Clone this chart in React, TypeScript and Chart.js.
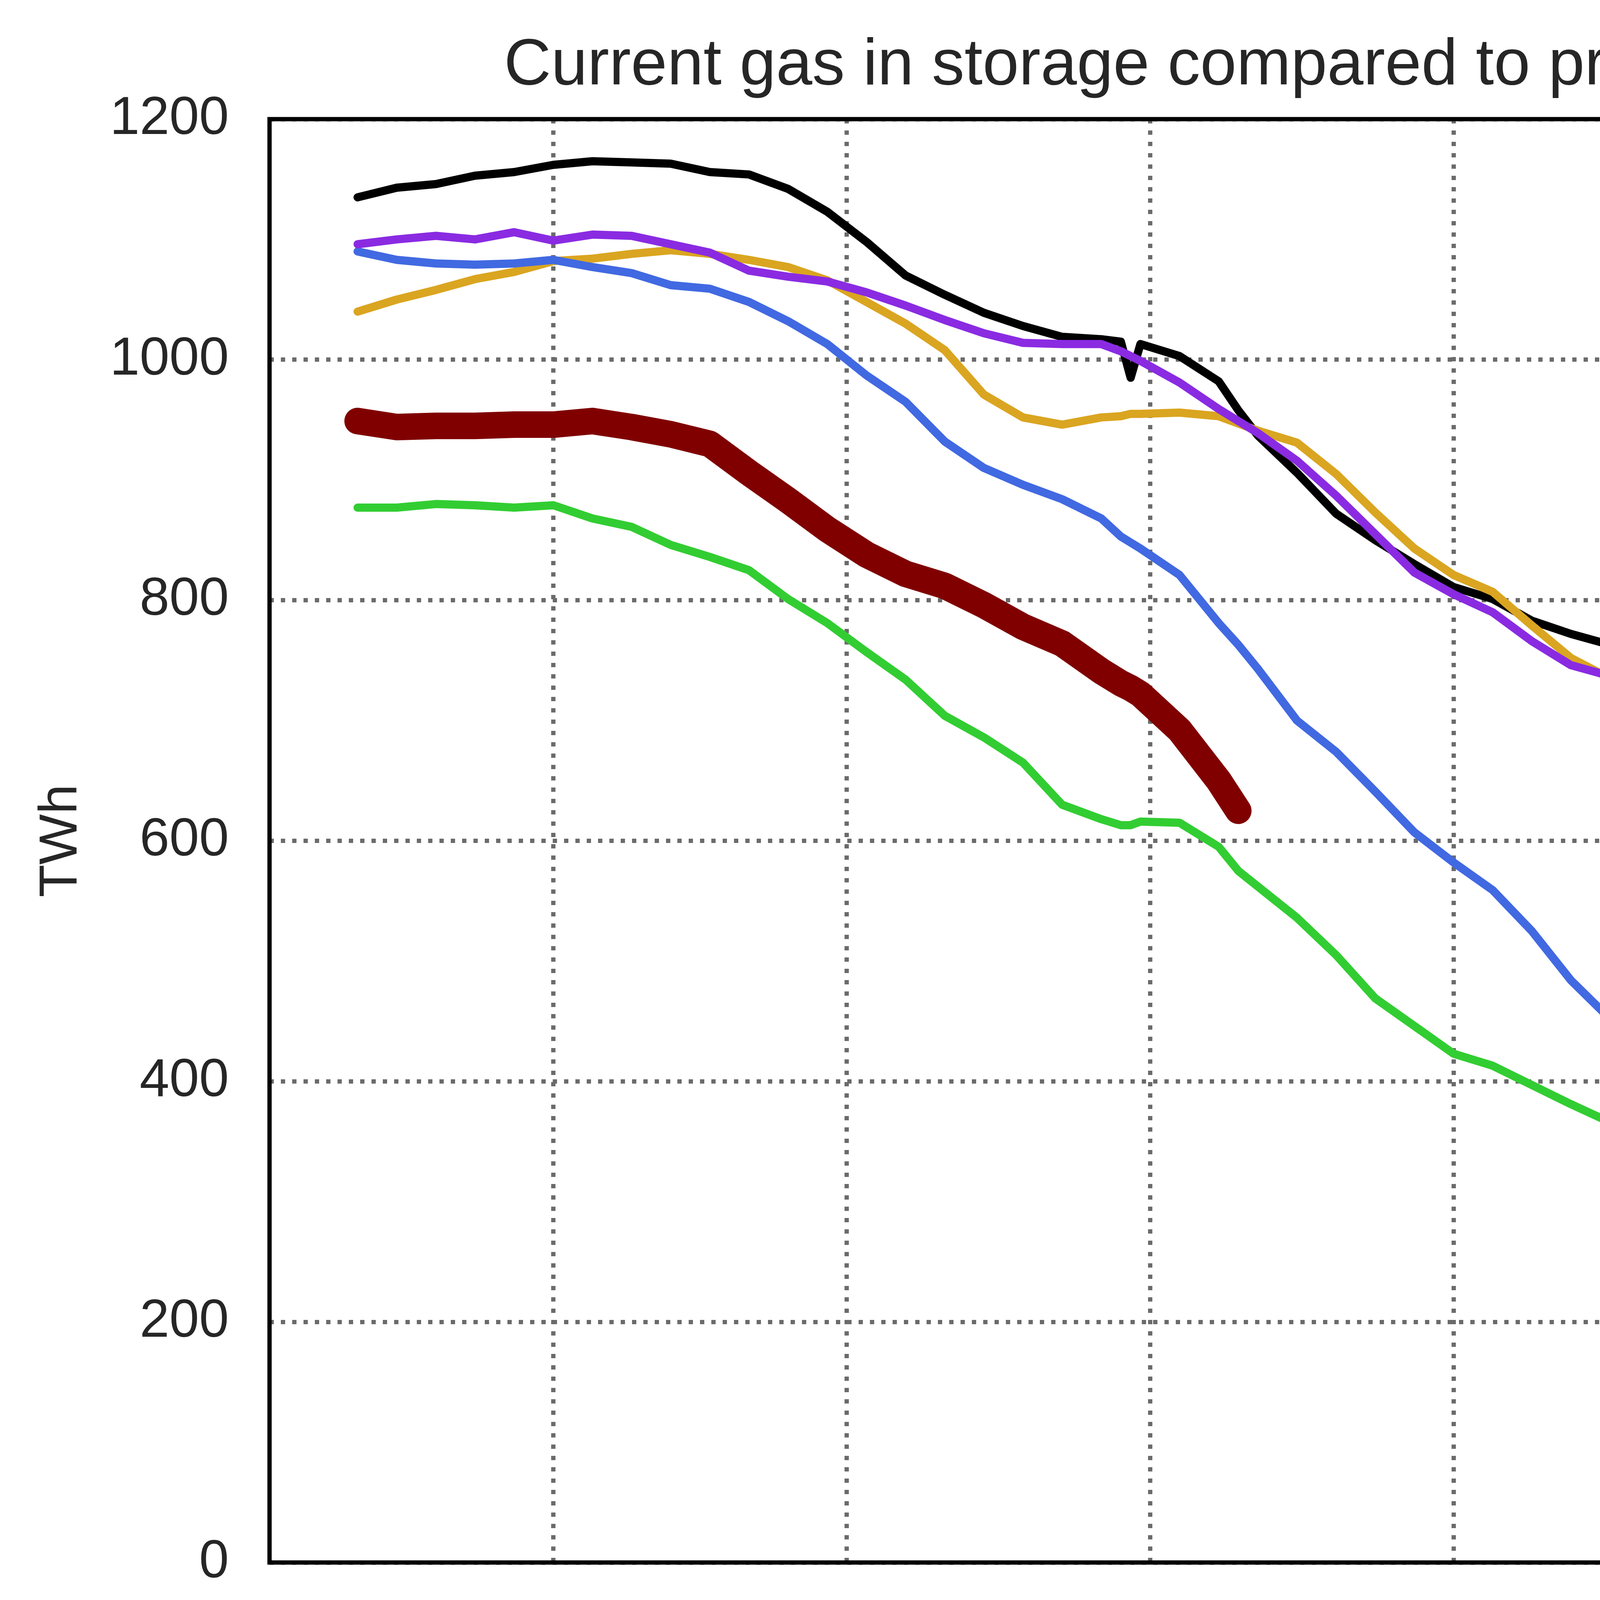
import { useEffect, useRef } from "react";
import { Chart, registerables } from "chart.js";

Chart.register(...registerables);

const W = 5749;
const H = 4708;
const FONT = '"Liberation Sans", Arial, sans-serif';
const TEXT = "#262626";
const TITLE = "Current gas in storage compared to previous years";

// sample days, counted from 2025-10-12
const days = [
  0, 4, 8, 12, 16, 20, 24, 28, 32, 36, 40, 44, 48, 52, 56, 60, 64, 68, 72, 76,
  78, 79, 80, 84, 88, 90, 92, 96, 100, 104, 108, 112, 116, 120, 124, 128, 132,
  136, 140, 144, 148, 152, 153, 154, 156, 160, 164, 168, 171, 172, 176, 180,
];

const monthTickDays = [20, 50, 81, 112, 140, 171];
const monthTickLabels = ["2025-11", "2025-12", "2026-01", "2026-02", "2026-03", "2026-04"];

// TWh in storage
const gas2025 = [
  949, 944, 945, 945, 946, 946, 949, 944, 938, 930, 906, 883, 859, 838, 822, 812, 796, 778, 764, 741,
  731, 727, 722, 692, 650, 625,
];
const gas2024 = [
  1135, 1143, 1146, 1153, 1156, 1162, 1165, 1164, 1163, 1156, 1154, 1142, 1123, 1098, 1070, 1054, 1039, 1028, 1019, 1017,
  1015, 985, 1013, 1003, 982, 958, 937, 906, 872, 850, 830, 811, 801, 783, 772, 763, 755,
  745, 731, 721, 707, 698, 696, 694, 693, 687, 688, 683, 677, 681, 687, 698,
];
const gas2023 = [
  1040, 1050, 1058, 1067, 1073, 1082, 1084, 1088, 1091, 1088, 1083, 1077, 1066, 1048, 1030, 1008, 971, 952, 946, 952,
  953, 955, 955, 956, 953, 947, 941, 931, 905, 873, 843, 821, 807, 779, 752, 735, 728,
  718, 698, 676, 653, 643, 653, 637, 634, 635, 644, 638, 645, 646, 639, 645,
];
const gas2022 = [
  877, 877, 880, 879, 877, 879, 868, 861, 846, 836, 825, 801, 781, 757, 734, 704, 686, 665, 630, 618,
  613, 613, 616, 615, 595, 575, 562, 536, 505, 469, 446, 423, 413, 397, 381, 366, 356,
  344, 332, 319, 303, 300, 299, 296, 294, 295, 297, 304, 300, 300, 299, 309,
];
const gas2021 = [
  1090, 1083, 1080, 1079, 1080, 1083, 1077, 1072, 1062, 1059, 1048, 1032, 1013, 987, 965, 932, 910, 896, 884, 868,
  853, 848, 843, 821, 781, 763, 743, 700, 674, 641, 607, 582, 559, 525, 484, 452, 437,
  426, 414, 394, 377, 368, 367, 365, 361, 348, 338, 340, 350, 352, 357, 345,
];
const gas2020 = [
  1096, 1100, 1103, 1100, 1106, 1099, 1104, 1103, 1096, 1089, 1074, 1069, 1065, 1056, 1045, 1033, 1022, 1014, 1013, 1013,
  1007, 1003, 999, 981, 959, 949, 939, 916, 887, 855, 823, 805, 790, 766, 746, 737, 719,
  710, 692, 669, 658, 649, 648, 646, 643, 641, 632, 625, 616, 617, 622, 634,
];

const seriesLabels = ["2025", "2024", "2023", "2022", "2021", "2020"];
const seriesValues = [gas2025, gas2024, gas2023, gas2022, gas2021, gas2020];
const seriesColors = ["#800000", "#000000", "#daa520", "#32cd32", "#4169e1", "#8a2be2"];
const seriesWidths = [68, 21, 21, 21, 21, 21];

// frame, title and legend drawn over the chart
const decorPlugin = {
  id: "decor",
  afterDraw(chart: Chart) {
    const { ctx, chartArea: a } = chart;
    ctx.save();

    ctx.strokeStyle = "#000";
    ctx.lineWidth = 11;
    ctx.strokeRect(a.left, a.top, a.right - a.left, a.bottom - a.top);

    ctx.fillStyle = TEXT;
    ctx.font = `167px ${FONT}`;
    ctx.textAlign = "center";
    ctx.textBaseline = "alphabetic";
    ctx.fillText(TITLE, (a.left + a.right) / 2, a.top - 89);

    const bx = a.right - 879;
    const by = a.top + 69;
    ctx.beginPath();
    ctx.roundRect(bx, by, 808, 1227, 35);
    ctx.fillStyle = "rgba(255,255,255,0.8)";
    ctx.fill();
    ctx.strokeStyle = "#d6d6d6";
    ctx.lineWidth = 14;
    ctx.stroke();

    ctx.font = `137px ${FONT}`;
    ctx.textAlign = "left";
    ctx.textBaseline = "middle";
    ctx.lineCap = "round";
    chart.data.datasets.forEach((ds: any, i: number) => {
      const cy = a.top + 176 + i * 197.8;
      ctx.beginPath();
      ctx.moveTo(a.right - 822, cy);
      ctx.lineTo(a.right - 545, cy);
      ctx.strokeStyle = ds.borderColor;
      ctx.lineWidth = ds.borderWidth;
      ctx.stroke();
      ctx.fillStyle = TEXT;
      ctx.fillText(ds.label, a.right - 430, cy + 4);
    });

    ctx.restore();
  },
};

export default function App() {
  const canvasRef = useRef<HTMLCanvasElement>(null);
  const chartRef = useRef<Chart | null>(null);

  useEffect(() => {
    document.body.style.margin = "0";
    if (!canvasRef.current) return;

    chartRef.current?.destroy();
    chartRef.current = new Chart(canvasRef.current.getContext("2d")!, {
      type: "line",
      data: {
        datasets: seriesLabels.map((label, i) => ({
          label,
          data: seriesValues[i].map((v, j) => ({ x: days[j], y: v })),
          borderColor: seriesColors[i],
          backgroundColor: seriesColors[i],
          borderWidth: seriesWidths[i],
          borderCapStyle: "round" as const,
          borderJoinStyle: "round" as const,
          pointRadius: 0,
          tension: 0,
          order: seriesLabels.length - i,
        })),
      },
      options: {
        responsive: false,
        animation: false,
        devicePixelRatio: 1,
        layout: { padding: { top: 305, right: 99, left: 0, bottom: 0 } },
        plugins: {
          legend: { display: false },
          title: { display: false },
          tooltip: { enabled: false },
        },
        scales: {
          x: {
            type: "linear",
            min: -9,
            max: 189,
            afterBuildTicks: (scale: any) => {
              scale.ticks = monthTickDays.map((v) => ({ value: v }));
            },
            afterFit: (scale: any) => {
              scale.height = H - 4000;
            },
            grid: { color: "#6b6b6b", lineWidth: 11, drawTicks: false },
            border: { display: false, dash: [11, 18] },
            ticks: {
              autoSkip: false,
              minRotation: 90,
              maxRotation: 90,
              padding: 129,
              color: TEXT,
              font: { family: FONT, size: 137 },
              callback: (v: string | number) => monthTickLabels[monthTickDays.indexOf(Number(v))] ?? "",
            },
          },
          y: {
            min: 0,
            max: 1200,
            afterFit: (scale: any) => {
              scale.width = 690;
            },
            grid: { color: "#6b6b6b", lineWidth: 11, drawTicks: false },
            border: { display: false, dash: [11, 18] },
            ticks: {
              stepSize: 200,
              padding: 104,
              color: TEXT,
              font: { family: FONT, size: 137 },
              callback: (v: string | number) => String(v),
            },
            title: {
              display: true,
              text: "TWh",
              color: TEXT,
              font: { family: FONT, size: 137 },
              padding: { top: 76, bottom: 0 },
            },
          },
        },
      },
      plugins: [decorPlugin],
    });

    return () => {
      chartRef.current?.destroy();
      chartRef.current = null;
    };
  }, []);

  return (
    <div style={{ width: W, height: H, background: "#fff" }}>
      <canvas ref={canvasRef} width={W} height={H} style={{ width: W, height: H, display: "block" }} />
    </div>
  );
}
